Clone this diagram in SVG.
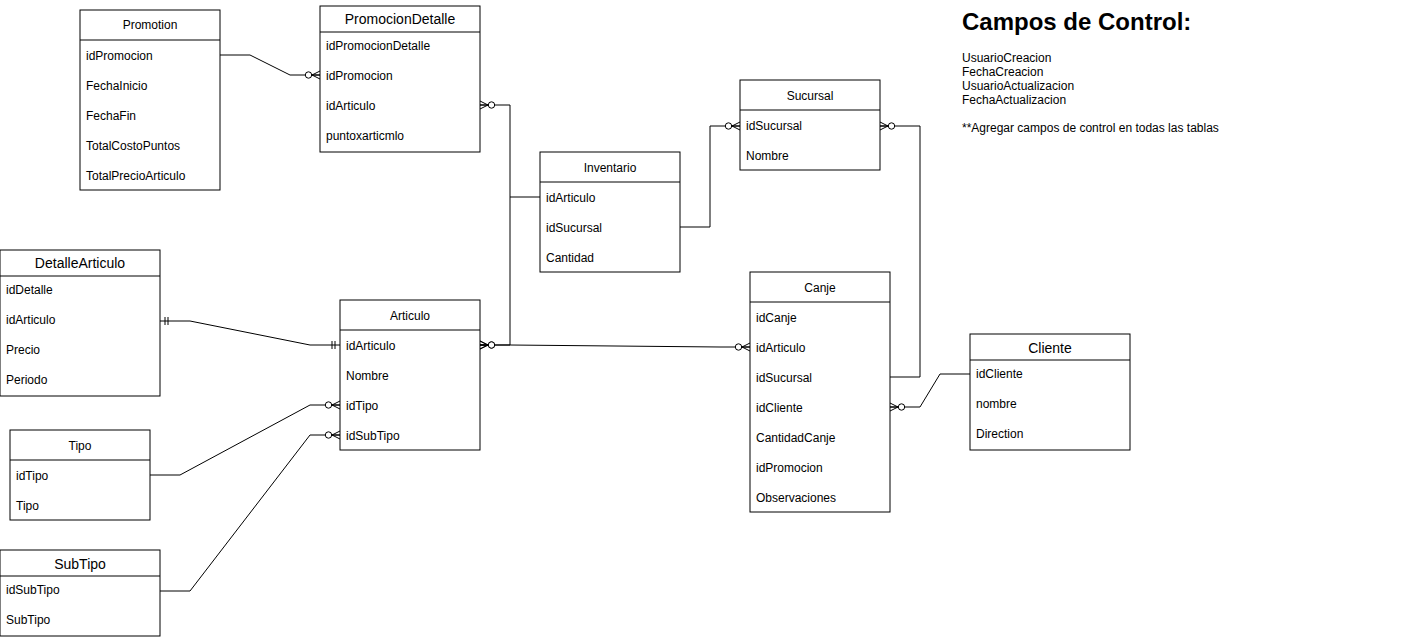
<svg xmlns="http://www.w3.org/2000/svg" width="1416" height="639" viewBox="0 0 1416 639">
<style>
.box{fill:#fff;stroke:#000;stroke-width:1}
.sep{stroke:#000;stroke-width:1}
text{font-family:"Liberation Sans",Arial,sans-serif;fill:#000}
.f{font-size:12px}
.h{font-size:12px;text-anchor:middle}
.H{font-size:14px;text-anchor:middle}
.c{fill:none;stroke:#000;stroke-width:1}
</style>
<defs>
<marker id="zm" viewBox="-20 -8 22 16" refX="0" refY="0" markerWidth="22" markerHeight="16" markerUnits="userSpaceOnUse" orient="auto">
<path d="M-8,0 L0,-4 M-8,0 L0,4 M-8,0 L0,0" fill="none" stroke="#000"/>
<circle cx="-11.5" cy="0" r="3.2" fill="#fff" stroke="#000"/>
</marker>
<marker id="zmS" viewBox="-20 -8 22 16" refX="0" refY="0" markerWidth="22" markerHeight="16" markerUnits="userSpaceOnUse" orient="auto-start-reverse">
<path d="M-8,0 L0,-4 M-8,0 L0,4 M-8,0 L0,0" fill="none" stroke="#000"/>
<circle cx="-11.5" cy="0" r="3.2" fill="#fff" stroke="#000"/>
</marker>
<marker id="one" viewBox="-20 -8 22 16" refX="0" refY="0" markerWidth="22" markerHeight="16" markerUnits="userSpaceOnUse" orient="auto">
<path d="M-5,-4 V4 M-8,-4 V4" fill="none" stroke="#000"/>
</marker>
<marker id="oneS" viewBox="-20 -8 22 16" refX="0" refY="0" markerWidth="22" markerHeight="16" markerUnits="userSpaceOnUse" orient="auto-start-reverse">
<path d="M-5,-4 V4 M-8,-4 V4" fill="none" stroke="#000"/>
</marker>
</defs>

<g id="connectors">
<path class="c" d="M220,55 H250 L290,75 H320" marker-end="url(#zm)"/>
<path class="c" d="M480,105 H510 V345 H480" marker-start="url(#zmS)" marker-end="url(#zm)"/>
<path class="c" d="M540,197 H510"/>
<path class="c" d="M480,345 H510 L720,347 H750" marker-start="url(#zmS)" marker-end="url(#zm)"/>
<path class="c" d="M680,227 H710 V126 H740" marker-end="url(#zm)"/>
<path class="c" d="M880,126 H920 V377 H890" marker-start="url(#zmS)"/>
<path class="c" d="M890,407 H920 L940,374 H970" marker-start="url(#zmS)"/>
<path class="c" d="M160,321 H190 L310,345 H340" marker-start="url(#oneS)" marker-end="url(#one)"/>
<path class="c" d="M150,475 H180 L310,405 H340" marker-end="url(#zm)"/>
<path class="c" d="M160,591 H190 L310,435 H340" marker-end="url(#zm)"/>
</g>

<g id="Promotion">
<rect class="box" x="80" y="10" width="140" height="180"/>
<line class="sep" x1="80" y1="40" x2="220" y2="40"/>
<text class="h" x="150" y="29">Promotion</text>
<text class="f" x="86" y="60">idPromocion</text>
<text class="f" x="86" y="90">FechaInicio</text>
<text class="f" x="86" y="120">FechaFin</text>
<text class="f" x="86" y="150">TotalCostoPuntos</text>
<text class="f" x="86" y="180">TotalPrecioArticulo</text>
</g>

<g id="PromocionDetalle">
<rect class="box" x="320" y="6" width="160" height="146"/>
<line class="sep" x1="320" y1="32" x2="480" y2="32"/>
<text class="H" x="400" y="24">PromocionDetalle</text>
<text class="f" x="326" y="50">idPromocionDetalle</text>
<text class="f" x="326" y="80">idPromocion</text>
<text class="f" x="326" y="110">idArticulo</text>
<text class="f" x="326" y="140">puntoxarticmlo</text>
</g>

<g id="Inventario">
<rect class="box" x="540" y="152" width="140" height="120"/>
<line class="sep" x1="540" y1="182" x2="680" y2="182"/>
<text class="h" x="610" y="172">Inventario</text>
<text class="f" x="546" y="202">idArticulo</text>
<text class="f" x="546" y="232">idSucursal</text>
<text class="f" x="546" y="262">Cantidad</text>
</g>

<g id="Sucursal">
<rect class="box" x="740" y="80" width="140" height="90"/>
<line class="sep" x1="740" y1="110" x2="880" y2="110"/>
<text class="h" x="810" y="100">Sucursal</text>
<text class="f" x="746" y="130">idSucursal</text>
<text class="f" x="746" y="160">Nombre</text>
</g>

<g id="DetalleArticulo">
<rect class="box" x="0" y="250" width="160" height="146"/>
<line class="sep" x1="0" y1="276" x2="160" y2="276"/>
<text class="H" x="80" y="268">DetalleArticulo</text>
<text class="f" x="6" y="294">idDetalle</text>
<text class="f" x="6" y="324">idArticulo</text>
<text class="f" x="6" y="354">Precio</text>
<text class="f" x="6" y="384">Periodo</text>
</g>

<g id="Articulo">
<rect class="box" x="340" y="300" width="140" height="150"/>
<line class="sep" x1="340" y1="330" x2="480" y2="330"/>
<text class="h" x="410" y="320">Articulo</text>
<text class="f" x="346" y="350">idArticulo</text>
<text class="f" x="346" y="380">Nombre</text>
<text class="f" x="346" y="410">idTipo</text>
<text class="f" x="346" y="440">idSubTipo</text>
</g>

<g id="Tipo">
<rect class="box" x="10" y="430" width="140" height="90"/>
<line class="sep" x1="10" y1="460" x2="150" y2="460"/>
<text class="h" x="80" y="450">Tipo</text>
<text class="f" x="16" y="480">idTipo</text>
<text class="f" x="16" y="510">Tipo</text>
</g>

<g id="SubTipo">
<rect class="box" x="0" y="550" width="160" height="86"/>
<line class="sep" x1="0" y1="576" x2="160" y2="576"/>
<text class="H" x="80" y="569">SubTipo</text>
<text class="f" x="6" y="594">idSubTipo</text>
<text class="f" x="6" y="624">SubTipo</text>
</g>

<g id="Canje">
<rect class="box" x="750" y="272" width="140" height="240"/>
<line class="sep" x1="750" y1="302" x2="890" y2="302"/>
<text class="h" x="820" y="292">Canje</text>
<text class="f" x="756" y="322">idCanje</text>
<text class="f" x="756" y="352">idArticulo</text>
<text class="f" x="756" y="382">idSucursal</text>
<text class="f" x="756" y="412">idCliente</text>
<text class="f" x="756" y="442">CantidadCanje</text>
<text class="f" x="756" y="472">idPromocion</text>
<text class="f" x="756" y="502">Observaciones</text>
</g>

<g id="Cliente">
<rect class="box" x="970" y="334" width="160" height="116"/>
<line class="sep" x1="970" y1="360" x2="1130" y2="360"/>
<text class="H" x="1050" y="353">Cliente</text>
<text class="f" x="976" y="378">idCliente</text>
<text class="f" x="976" y="408">nombre</text>
<text class="f" x="976" y="438">Direction</text>
</g>

<g id="CamposControl">
<text x="962" y="30" style="font-size:24px;font-weight:bold">Campos de Control:</text>
<text class="f" x="962" y="62">UsuarioCreacion</text>
<text class="f" x="962" y="76">FechaCreacion</text>
<text class="f" x="962" y="90">UsuarioActualizacion</text>
<text class="f" x="962" y="104">FechaActualizacion</text>
<text class="f" x="962" y="132">**Agregar campos de control en todas las tablas</text>
</g>
</svg>
